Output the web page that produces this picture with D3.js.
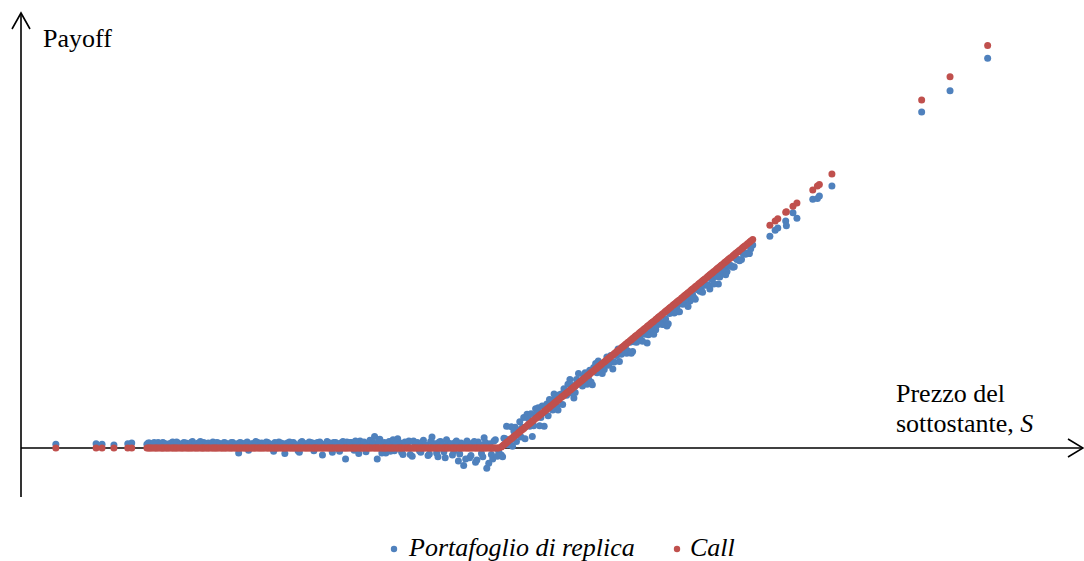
<!DOCTYPE html>
<html>
<head>
<meta charset="utf-8">
<script src="https://cdn.jsdelivr.net/npm/d3@7"></script>
</head>
<body style="margin:0">
<svg id="chart" width="1084" height="561"></svg>
<script>
// Underlying price S for each simulated scenario
const spot = [
  32.7, 38.8, 39.7, 41.5, 43.6, 44.2,
  46.5, 46.9, 47.3, 47.8, 48.2, 48.7, 49.0, 49.5, 49.9, 50.4,
  50.8, 51.2, 51.7, 52.1, 52.6, 53.0, 53.4, 53.9, 54.3, 54.8,
  55.1, 55.6, 56.0, 56.5, 56.9, 57.3, 57.8, 58.2, 58.6, 59.1,
  59.5, 60.0, 60.4, 60.8, 61.3, 61.7, 62.2, 62.6, 63.0, 63.5,
  63.9, 64.3, 64.8, 65.2, 65.7, 66.1, 66.5, 67.0, 67.4, 67.8,
  68.3, 68.7, 69.2, 69.6, 70.0, 70.5, 70.9, 71.3, 71.8, 72.2,
  72.7, 73.1, 73.5, 74.0, 74.4, 74.8, 75.3, 75.7, 76.2, 76.6,
  77.0, 77.5, 77.9, 78.3, 78.8, 79.2, 79.7, 80.1, 80.5, 81.0,
  81.4, 81.8, 82.3, 82.7, 83.2, 83.6, 84.0, 84.5, 84.9, 85.3,
  85.8, 86.2, 86.7, 87.1, 87.5, 88.0, 88.4, 88.8, 89.3, 89.7,
  90.2, 90.6, 91.0, 91.5, 91.9, 92.3, 92.8, 93.2, 93.7, 94.1,
  94.5, 95.0, 95.4, 95.8, 96.3, 96.7, 97.2, 97.6, 98.0, 98.5,
  98.9, 99.3, 99.8,
  46.7, 47.1, 47.6, 48.0, 48.5, 48.9, 49.3, 49.7, 50.2, 50.6,
  51.0, 51.5, 51.9, 52.4, 52.8, 53.2, 53.7, 54.1, 54.6, 55.0,
  55.4, 55.8, 56.3, 56.7, 57.1, 57.6, 58.0, 58.4, 58.9, 59.3,
  59.8, 60.2, 60.6, 61.1, 61.5, 61.9, 62.4, 62.8, 63.3, 63.7,
  64.1, 64.6, 65.0, 65.4, 65.9, 66.3, 66.8, 67.2, 67.6, 68.1,
  68.5, 68.9, 69.4, 69.8, 70.3, 70.7, 71.1, 71.6, 72.0, 72.4,
  72.9, 73.3, 73.8, 74.2, 74.6, 75.1, 75.5, 75.9, 76.4, 76.8,
  77.3, 77.7, 78.1, 78.6, 79.0, 79.4, 79.9, 80.3, 80.8, 81.2,
  81.6, 82.1, 82.5, 82.9, 83.4, 83.8, 84.3, 84.7, 85.1, 85.6,
  86.0, 86.4, 86.9, 87.3, 87.8, 88.2, 88.6, 89.1, 89.5, 89.9,
  90.4, 90.8, 91.3, 91.7, 92.1, 92.6, 93.0, 93.4, 93.9, 94.3,
  94.8, 95.2, 95.6, 96.1, 96.5, 96.9, 97.4, 97.8, 98.3, 98.7,
  99.1, 99.6,
  100.2, 100.6, 101.0, 101.5, 101.9, 102.3, 102.8, 103.2, 103.6, 104.1,
  104.5, 104.9, 105.4, 105.8, 106.2, 106.7, 107.1, 107.5, 108.0, 108.4,
  108.8, 109.3, 109.7, 110.1, 110.6, 111.0, 111.4, 111.9, 112.3, 112.7,
  113.2, 113.6, 114.0, 114.5, 114.9, 115.3, 115.8, 116.2, 116.6, 117.1,
  117.5, 117.9, 118.4, 118.8, 119.2, 119.7, 120.1, 120.5, 121.0, 121.4,
  121.8, 122.3, 122.7, 123.1, 123.6, 124.0, 124.4, 124.9, 125.3, 125.7,
  126.2, 126.6, 127.0, 127.5, 127.9, 128.3, 128.8, 129.2, 129.6, 130.1,
  130.5, 130.9, 131.4, 131.8, 132.2, 132.7, 133.1, 133.5, 134.0, 134.4,
  134.8, 135.3, 135.7, 136.1, 136.6, 137.0, 137.5, 138.3,
  100.4, 100.8, 101.2, 101.7, 102.1, 102.5, 103.0, 103.4, 103.8, 104.3,
  104.7, 105.1, 105.6, 106.0, 106.4, 106.9, 107.3, 107.7, 108.2, 108.6,
  109.0, 109.5, 109.9, 110.3, 110.8, 111.2, 111.6, 112.1, 112.5, 112.9,
  113.4, 113.8, 114.2, 114.7, 115.1, 115.5, 116.0, 116.4, 116.8, 117.3,
  117.7, 118.1, 118.6, 119.0, 119.4, 119.9, 120.3, 120.7, 121.2, 121.6,
  122.0, 122.5, 122.9, 123.3, 123.8, 124.2, 124.6, 125.1, 125.5, 125.9,
  126.4, 126.8, 127.2, 127.7, 128.1, 128.5, 129.0, 129.4, 129.8, 130.3,
  130.7, 131.1, 131.6, 132.0, 132.4, 132.9, 133.3, 133.7, 134.2, 134.6,
  135.0, 135.5, 135.9, 136.3, 136.8, 137.2, 137.8, 138.0,
  140.9, 141.7, 142.1, 143.3, 143.4, 144.4, 145.0, 147.4, 148.1, 148.4, 150.3,
  163.9, 168.2, 173.9
];

// Call option payoff in each scenario
const callPayoff = [
  0, 0, 0, 0, 0, 0,
  0, 0, 0, 0, 0, 0, 0, 0, 0, 0,
  0, 0, 0, 0, 0, 0, 0, 0, 0, 0,
  0, 0, 0, 0, 0, 0, 0, 0, 0, 0,
  0, 0, 0, 0, 0, 0, 0, 0, 0, 0,
  0, 0, 0, 0, 0, 0, 0, 0, 0, 0,
  0, 0, 0, 0, 0, 0, 0, 0, 0, 0,
  0, 0, 0, 0, 0, 0, 0, 0, 0, 0,
  0, 0, 0, 0, 0, 0, 0, 0, 0, 0,
  0, 0, 0, 0, 0, 0, 0, 0, 0, 0,
  0, 0, 0, 0, 0, 0, 0, 0, 0, 0,
  0, 0, 0, 0, 0, 0, 0, 0, 0, 0,
  0, 0, 0, 0, 0, 0, 0, 0, 0, 0,
  0, 0, 0,
  0, 0, 0, 0, 0, 0, 0, 0, 0, 0,
  0, 0, 0, 0, 0, 0, 0, 0, 0, 0,
  0, 0, 0, 0, 0, 0, 0, 0, 0, 0,
  0, 0, 0, 0, 0, 0, 0, 0, 0, 0,
  0, 0, 0, 0, 0, 0, 0, 0, 0, 0,
  0, 0, 0, 0, 0, 0, 0, 0, 0, 0,
  0, 0, 0, 0, 0, 0, 0, 0, 0, 0,
  0, 0, 0, 0, 0, 0, 0, 0, 0, 0,
  0, 0, 0, 0, 0, 0, 0, 0, 0, 0,
  0, 0, 0, 0, 0, 0, 0, 0, 0, 0,
  0, 0, 0, 0, 0, 0, 0, 0, 0, 0,
  0, 0, 0, 0, 0, 0, 0, 0, 0, 0,
  0, 0,
  0.2, 0.6, 1.0, 1.5, 1.9, 2.3, 2.8, 3.2, 3.6, 4.1,
  4.5, 4.9, 5.4, 5.8, 6.2, 6.7, 7.1, 7.5, 8.0, 8.4,
  8.8, 9.3, 9.7, 10.1, 10.6, 11.0, 11.4, 11.9, 12.3, 12.7,
  13.2, 13.6, 14.0, 14.5, 14.9, 15.3, 15.8, 16.2, 16.6, 17.1,
  17.5, 17.9, 18.4, 18.8, 19.2, 19.7, 20.1, 20.5, 21.0, 21.4,
  21.8, 22.3, 22.7, 23.1, 23.6, 24.0, 24.4, 24.9, 25.3, 25.7,
  26.2, 26.6, 27.0, 27.5, 27.9, 28.3, 28.8, 29.2, 29.6, 30.1,
  30.5, 30.9, 31.4, 31.8, 32.2, 32.7, 33.1, 33.5, 34.0, 34.4,
  34.8, 35.3, 35.7, 36.1, 36.6, 37.0, 37.5, 38.3,
  0.4, 0.8, 1.2, 1.7, 2.1, 2.5, 3.0, 3.4, 3.8, 4.3,
  4.7, 5.1, 5.6, 6.0, 6.4, 6.9, 7.3, 7.7, 8.2, 8.6,
  9.0, 9.5, 9.9, 10.3, 10.8, 11.2, 11.6, 12.1, 12.5, 12.9,
  13.4, 13.8, 14.2, 14.7, 15.1, 15.5, 16.0, 16.4, 16.8, 17.3,
  17.7, 18.1, 18.6, 19.0, 19.4, 19.9, 20.3, 20.7, 21.2, 21.6,
  22.0, 22.5, 22.9, 23.3, 23.8, 24.2, 24.6, 25.1, 25.5, 25.9,
  26.4, 26.8, 27.2, 27.7, 28.1, 28.5, 29.0, 29.4, 29.8, 30.3,
  30.7, 31.1, 31.6, 32.0, 32.4, 32.9, 33.3, 33.7, 34.2, 34.6,
  35.0, 35.5, 35.9, 36.3, 36.8, 37.2, 37.8, 38.0,
  40.9, 41.7, 42.1, 43.3, 43.4, 44.4, 45.0, 47.4, 48.1, 48.4, 50.3,
  63.9, 68.2, 73.9
];

// Value of the replicating portfolio in each scenario
const replicaValue = [
  0.7, 0.8, 0.7, 0.55, 0.8, 0.9,
  0.7, 0.9, 0.5, 0.8, 1.0, 0.6, 0.9, 0.4, 0.8, 1.1,
  0.7, 0.9, 0.3, 1.0, 0.8, 0.6, 1.2, 0.5, 0.9, 0.7,
  1.0, 0.4, 0.8, 1.1, 0.6, 0.9, 0.5, 1.0, 0.7, 0.8,
  1.0, 0.6, -0.9, 0.9, 0.7, 1.1, 0.5, 0.8, 1.2, 0.6,
  0.9, 0.7, 1.0, 0.4, -0.6, 0.8, 1.1, 0.6, -1.0, 0.9,
  0.7, 1.0, 0.5, -0.8, 1.2, 0.8, 0.6, 1.0, -0.5, 0.9,
  1.1, -1.3, 0.7, 0.9, 0.4, 1.0, 0.8, -0.6, 1.2, -2.0,
  0.8, 1.0, -0.4, 0.6, 1.3, 0.9, -0.7, 0.5, 1.1, 2.1,
  -2.0, 1.6, 0.8, -0.9, 1.2, 0.5, -0.5, 1.7, 0.9, -1.2,
  0.7, 1.3, -1.5, 0.6, 1.0, -0.8, 1.4, 0.5, -1.1, 2.0,
  0.8, -1.6, 1.2, -0.7, 1.5, 0.6, -1.3, 1.0, -2.4, 0.9,
  -3.2, 1.3, -1.8, 0.7, -2.6, 1.1, -1.0, 1.9, -3.7, 0.8,
  -2.0, 1.5, -0.6,
  0.9, 0.6, 1.0, 0.7, 0.5, 1.0, 0.8, 0.6, 0.9, 0.7,
  1.1, 0.6, 0.8, 0.9, 0.5, 1.0, 0.7, 0.8, 1.2, 0.6,
  0.8, 0.9, 0.5, 0.7, 1.0, 0.8, 0.6, 0.9, 0.7, 1.0,
  0.5, 0.8, 1.0, 0.7, 0.9, -0.4, 0.8, 0.6, 1.0, 0.8,
  0.6, 1.1, 0.8, 0.7, 1.0, 0.5, 0.9, 0.8, 0.6, 1.1,
  0.9, 0.7, -0.5, 1.0, 0.8, 0.6, 1.1, 0.9, 0.7, 1.0,
  0.8, 0.5, 1.2, 0.9, -0.8, 1.0, 0.7, 0.9, 0.6, 1.1,
  1.0, 0.7, 1.3, -1.0, 0.8, 1.1, 0.6, 1.4, 0.9, 0.7,
  1.2, -0.9, 1.0, 0.8, -0.6, 1.5, 0.9, 0.6, -0.8, 1.1,
  0.9, -1.2, 1.3, 0.7, -0.5, 1.0, 0.6, -1.4, 1.2, 0.8,
  -0.9, 1.1, 0.5, -1.8, 1.0, 0.8, -0.6, 1.3, -1.1, 0.7,
  -2.0, 0.9, -1.4, 1.2, -2.2, 0.6, -1.6, 1.0, -2.8, -1.2,
  1.3, -1.5,
  -1.3, 1.8, 4.0, 0.7, 0.3, 3.8, 3.3, 2.0, 5.6, 6.2,
  4.0, 2.1, 7.2, 7.4, 5.6, 4.0, 8.1, 8.9, 7.0, 9.2,
  7.0, 9.9, 10.9, 9.7, 12.6, 11.5, 10.2, 13.7, 11.7, 13.1,
  11.7, 14.3, 11.6, 15.5, 16.0, 14.5, 14.4, 16.7, 15.6, 14.5,
  17.1, 18.2, 17.2, 18.2, 17.4, 19.4, 17.7, 19.5, 20.5, 19.8,
  21.0, 19.3, 21.5, 22.5, 21.7, 23.1, 23.0, 22.7, 22.4, 24.7,
  25.5, 25.0, 25.0, 26.6, 26.6, 27.7, 27.0, 28.1, 27.3, 29.3,
  29.0, 30.0, 30.0, 29.2, 31.0, 32.0, 30.1, 31.9, 33.0, 32.4,
  33.5, 33.2, 34.9, 34.6, 34.6, 35.8, 35.8, 37.3,
  -1.6, 1.7, 0.6, 3.9, 3.1, 1.2, 4.8, 3.8, 1.7, 5.4,
  6.3, 4.1, 6.3, 4.1, 7.7, 7.5, 5.9, 8.6, 9.9, 7.7,
  9.8, 8.0, 10.2, 11.7, 10.1, 9.2, 12.6, 12.3, 11.4, 13.8,
  12.8, 12.1, 14.8, 13.8, 14.8, 13.7, 15.5, 15.2, 17.0, 15.8,
  17.0, 15.9, 17.6, 18.6, 17.8, 17.4, 19.5, 19.4, 20.6, 19.6,
  20.9, 20.8, 22.4, 20.9, 22.6, 23.3, 22.7, 23.7, 22.8, 25.3,
  24.8, 25.8, 25.0, 26.4, 27.3, 26.0, 27.9, 27.6, 29.1, 28.8,
  28.6, 29.9, 29.9, 31.1, 30.1, 31.5, 31.4, 32.6, 31.8, 33.6,
  33.5, 33.3, 34.6, 34.4, 35.8, 35.6, 35.7, 36.6,
  38.9, 40.0, 40.4, 41.7, 40.8, 43.2, 42.2, 45.7, 45.8, 46.3, 48.1,
  61.7, 65.6, 71.6
];

const seriesNames = ["Portafoglio di replica", "Call"];
const seriesColors = ["#4F81BD", "#C0504D"];
const axisTitleY = "Payoff";
const axisTitleX = ["Prezzo del", "sottostante, "];
const axisTitleXVar = "S";

const svg = d3.select("#chart");

// Scales: price on the horizontal axis, payoff on the vertical one
const x = d3.scaleLinear().domain([27.42, 188.5]).range([21, 1084]);
const y = d3.scaleLinear().domain([-9, 80]).range([497, 12.4]);

const rows = spot.map((s, i) => ({ s, call: callPayoff[i], rep: replicaValue[i] }));

// Axes drawn as plain arrows crossing at the origin of the payoff
const axisG = svg.append("g").attr("stroke", "#000").attr("stroke-width", 1.6).attr("fill", "none");
const x0 = x.range()[0];
const yZero = y(0);
axisG.append("line").attr("x1", x0).attr("x2", 1083).attr("y1", yZero).attr("y2", yZero);
axisG.append("line").attr("x1", x0).attr("x2", x0).attr("y1", y.range()[0]).attr("y2", 13);
axisG.append("path").attr("d", `M${x0 - 9},${29} L${x0},${13} L${x0 + 9},${29}`);
axisG.append("path").attr("d", `M${1068},${yZero - 9} L${1083},${yZero} L${1068},${yZero + 9}`);

// Scatter points: replicating portfolio first, call payoff on top
const r = 3.5;
svg.append("g").selectAll("circle").data(rows).join("circle")
  .attr("cx", d => x(d.s)).attr("cy", d => y(d.rep)).attr("r", r)
  .attr("fill", seriesColors[0]);
svg.append("g").selectAll("circle").data(rows).join("circle")
  .attr("cx", d => x(d.s)).attr("cy", d => y(d.call)).attr("r", r)
  .attr("fill", seriesColors[1]);

// Text labels in a serif face
const labels = [
  { x: 43, y: 47, text: axisTitleY, italic: false },
  { x: 896, y: 402, text: axisTitleX[0], italic: false },
  { x: 896, y: 432, text: axisTitleX[1], italic: false, tail: axisTitleXVar },
  { x: 409, y: 556, text: seriesNames[0], italic: true },
  { x: 690, y: 556, text: seriesNames[1], italic: true }
];
const txt = svg.selectAll("text.lbl").data(labels).join("text")
  .attr("class", "lbl")
  .attr("x", d => d.x).attr("y", d => d.y)
  .attr("font-size", 26)
  .style("font-family", "Liberation Serif")
  .style("font-style", d => d.italic ? "italic" : null)
  .text(d => d.text);
txt.filter(d => d.tail).append("tspan")
  .style("font-style", "italic")
  .text(d => d.tail);

// Legend markers
svg.selectAll("circle.key").data([394, 677]).join("circle")
  .attr("class", "key")
  .attr("cx", d => d).attr("cy", 549).attr("r", 3.2)
  .attr("fill", (d, i) => seriesColors[i]);
</script>
</body>
</html>
